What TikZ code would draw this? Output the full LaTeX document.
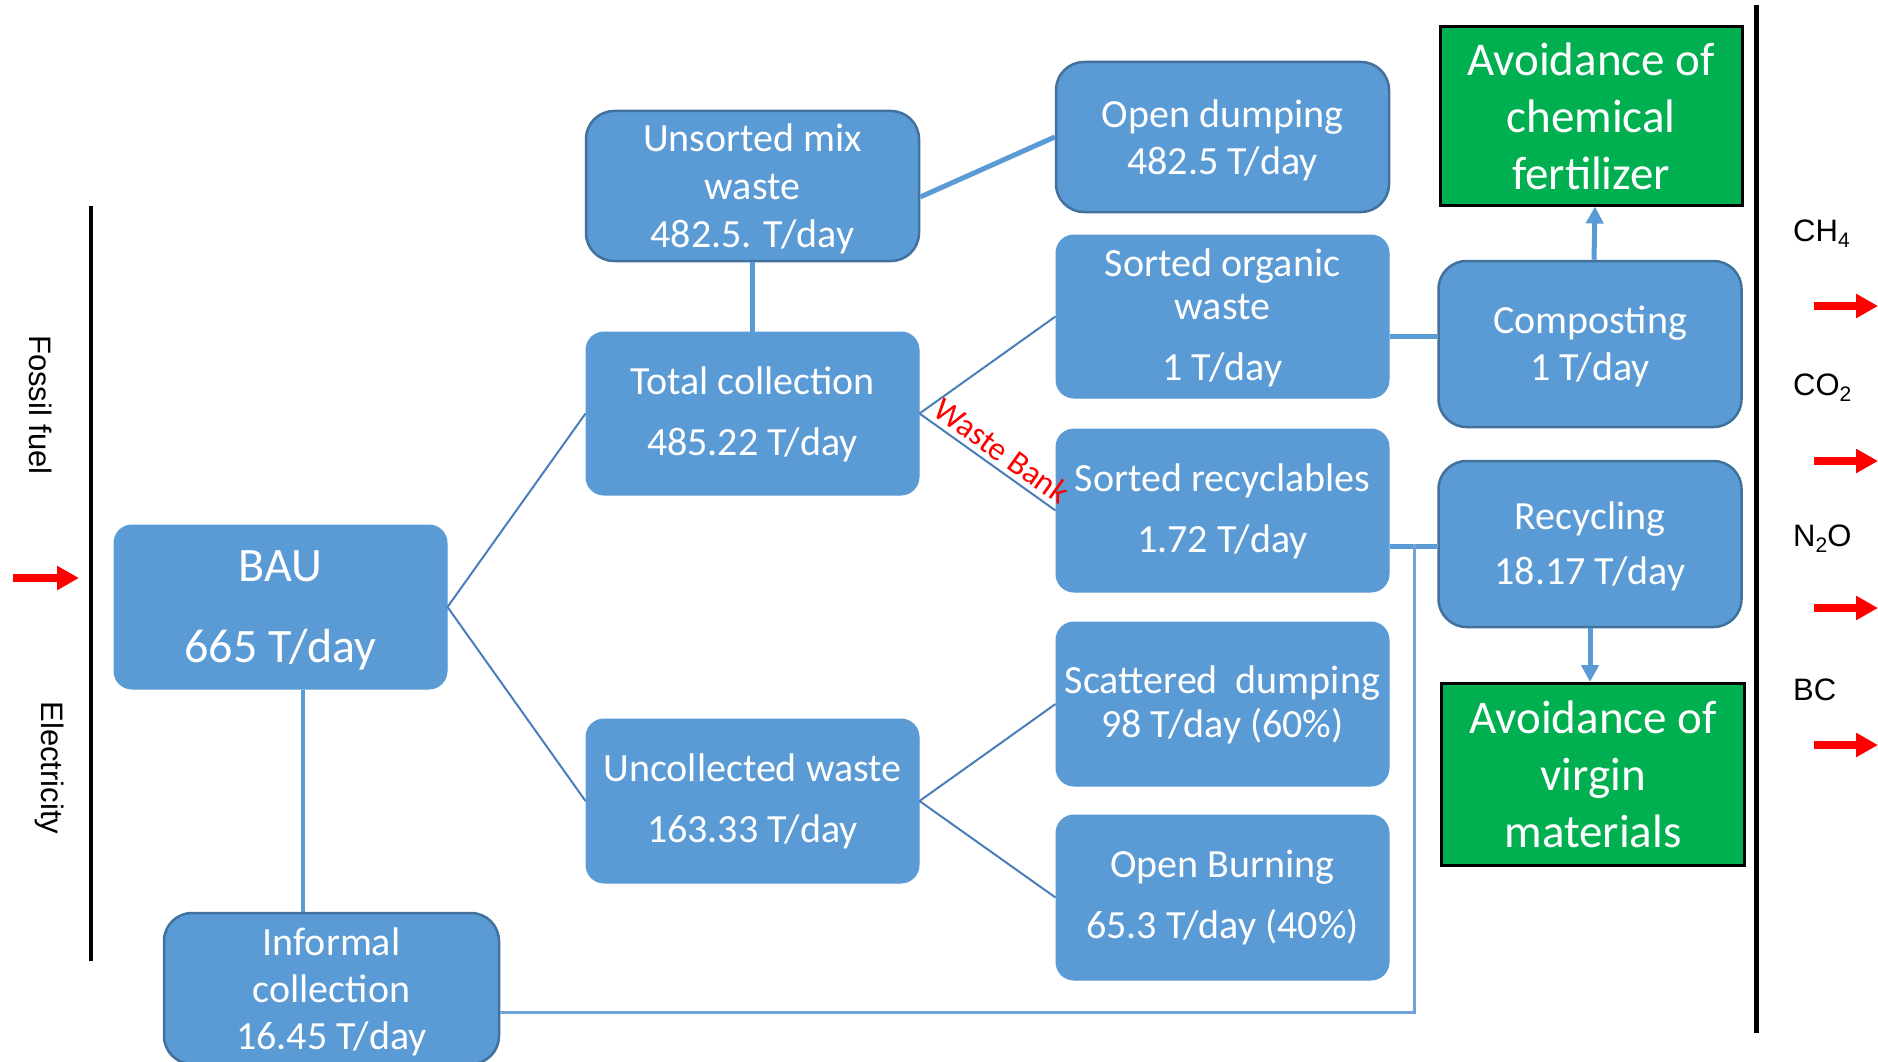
\documentclass[tikz,border=0pt]{standalone}
\usepackage{fontspec}
\setmainfont{Carlito}
\newfontfamily\arialf{Liberation Sans}
\usetikzlibrary{arrows.meta}
\definecolor{boxblue}{HTML}{5B9BD5}
\definecolor{boxedge}{HTML}{41719C}
\definecolor{linedark}{HTML}{4A7EBB}
\definecolor{linelight}{HTML}{6FA3DA}
\definecolor{boxgreen}{HTML}{00B050}
\newcommand{\gsub}[1]{\raisebox{-6pt}{\fontsize{21}{21}\selectfont #1}}
\tikzset{
  box/.style={rectangle, rounded corners=18pt, fill=boxblue, draw=boxblue, line width=1pt,
    text=white, align=center, inner sep=0pt, minimum width=333pt, minimum height=163pt,
    font=\fontsize{40}{48}\selectfont},
  bbox/.style={box, draw=boxedge, line width=2.5pt, rounded corners=28pt},
  gbox/.style={rectangle, fill=boxgreen, draw=black, line width=3pt, text=white, align=center,
    inner sep=0pt, minimum width=302pt, font=\fontsize{47}{57}\selectfont},
  thinlink/.style={draw=linedark, line width=2pt},
  thicklink/.style={draw=boxblue, line width=5pt},
  midlink/.style={draw=boxblue, line width=4.5pt},
  lowlink/.style={draw=boxblue, line width=3.5pt},
  lightlink/.style={draw=linelight, line width=3pt},
  bluearrow/.style={draw=boxblue, line width=5pt, -{Triangle[width=17pt,length=17pt]}},
  redarrow/.style={draw=red, line width=8pt, -{Triangle[width=23pt,length=22pt]}},
  gaslabel/.style={anchor=base west, inner sep=0pt, font=\arialf\fontsize{31}{31}\selectfont},
  sidelabel/.style={rotate=-90, inner sep=0pt, font=\arialf\fontsize{31}{31}\selectfont},
  blackbar/.style={draw=black},
}
\begin{document}
\begin{tikzpicture}[x=1pt,y=-1pt]
\clip (0,0) rectangle (1878,1062);
\fill[white] (0,0) rectangle (1878,1062);

% black bars
\coordinate (lb1) at (91,206);
\coordinate (lb2) at (91,961);
\coordinate (rb1) at (1756,5);
\coordinate (rb2) at (1756,1033);
\draw[blackbar, line width=4pt] (lb1) -- (lb2);
\draw[blackbar, line width=5pt] (rb1) -- (rb2);

% boxes
\node[bbox, minimum height=150pt, text depth=-5pt] (unsorted) at (752.5,186) {Unsorted mix\\waste\\482.5. T/day};
\node[bbox, minimum height=150pt, text depth=-3pt, font=\fontsize{40}{47}\selectfont] (opendump) at (1222.5,137) {Open dumping\\482.5 T/day};
\node[gbox, minimum height=178pt] (chem) at (1591,116) {Avoidance of\\chemical\\fertilizer};
\node[box, text depth=5pt, font=\fontsize{40}{61}\selectfont] (total) at (752.5,413.5) {Total collection\\485.22 T/day};
\node[box, text depth=3.5pt, font=\fontsize{40}{43}\selectfont] (organic) at (1222.5,316.5) {Sorted organic\\waste\\[18pt]1 T/day};
\node[bbox, minimum width=303pt, minimum height=166pt, text depth=2pt, font=\fontsize{40}{47}\selectfont] (compost) at (1590,344) {Composting\\1 T/day};
\node[box, text depth=5pt, font=\fontsize{40}{61}\selectfont] (recyc) at (1222.5,510.5) {Sorted recyclables\\1.72 T/day};
\node[bbox, minimum width=303pt, minimum height=166pt, text depth=1pt, font=\fontsize{40}{55}\selectfont] (recycling) at (1590,544) {Recycling\\18.17 T/day};
\node[box, minimum height=164pt, text depth=-2pt, font=\fontsize{48}{81}\selectfont] (bau) at (280.5,607) {BAU\\665 T/day};
\node[box, minimum height=164pt, text depth=4pt, font=\fontsize{40}{44}\selectfont] (scatter) at (1222.5,704) {Scattered\ \ dumping\\98 T/day (60\%)};
\node[gbox, minimum width=303pt, minimum height=182pt] (virgin) at (1593,774.5) {Avoidance of\\virgin\\materials};
\node[box, minimum height=164pt, text depth=5pt, font=\fontsize{40}{61}\selectfont] (uncol) at (752.5,801) {Uncollected waste\\163.33 T/day};
\node[box, minimum height=165pt, font=\fontsize{40}{61}\selectfont] (burning) at (1222.5,897.5) {Open Burning\\65.3 T/day (40\%)};
\node[bbox, minimum width=335pt, minimum height=151pt, text depth=-5pt, font=\fontsize{40}{47}\selectfont] (informal) at (331.5,988.5) {Informal\\collection\\16.45 T/day};

% connectors
\draw[thinlink] (bau.east) -- (total.west);
\draw[thinlink] (bau.east) -- (uncol.west);
\draw[midlink] (unsorted.south) -- (total.north);
\draw[thicklink] ([yshift=-11pt]unsorted.east) -- (opendump.west);
\draw[thinlink] (total.east) -- (organic.west);
\draw[thinlink] (total.east) -- node[sloped, above, pos=0.53, inner sep=5pt, text=red,
  font=\fontsize{33}{33}\selectfont] (wb) {Waste Bank} (recyc.west);
\draw[thinlink] (uncol.east) -- (scatter.west);
\draw[thinlink] (uncol.east) -- (burning.west);
\draw[thicklink] (organic.east |- 0,336) -- (compost.west |- 0,336);
\draw[bluearrow] ([xshift=4pt]compost.north) -- ([xshift=4pt]chem.south);
\draw[thicklink] (recyc.east |- 0,546) -- (recycling.west |- 0,546);
\draw[bluearrow] (recycling.south) -- (recycling.south |- virgin.north);
\draw[lowlink] (bau.south -| 303,0) -- (informal.north -| 303,0);
\coordinate (jr) at (1414,544);
\coordinate (jb) at (1414,1012);
\draw[lightlink] (informal.east |- jb) -- (jb) -- (jr);

% side labels
\node[sidelabel] (fossil) at (41,405) {Fossil fuel};
\node[sidelabel] (elec) at (50,768) {Electricity};
\coordinate (la1) at (13,578);
\coordinate (la2) at (79,578);
\draw[redarrow] (la1) -- (la2);

% gases
\node[gaslabel] (ch4) at (1793,241) {CH\gsub{4}};
\node[gaslabel] (co2) at (1793,395) {CO\gsub{2}};
\node[gaslabel] (n2o) at (1793,546) {N\gsub{2}O};
\node[gaslabel] (bc) at (1793,700) {BC};
\coordinate (ra1) at (1814,306);  \coordinate (rb1e) at (1878,306);
\coordinate (ra2) at (1814,461);  \coordinate (rb2e) at (1878,461);
\coordinate (ra3) at (1814,608);  \coordinate (rb3e) at (1878,608);
\coordinate (ra4) at (1814,745);  \coordinate (rb4e) at (1878,745);
\draw[redarrow] (ra1) -- (rb1e);
\draw[redarrow] (ra2) -- (rb2e);
\draw[redarrow] (ra3) -- (rb3e);
\draw[redarrow] (ra4) -- (rb4e);
\end{tikzpicture}
\end{document}
